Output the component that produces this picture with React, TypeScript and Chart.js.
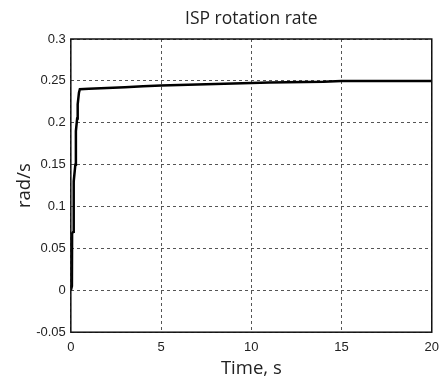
import React, { useEffect, useRef } from "react";
import { Chart, registerables } from "chart.js";

Chart.register(...registerables);

const timeSeconds = [0, 0.06, 0.07, 0.14, 0.16, 0.25, 0.28, 0.35, 0.38, 0.45, 0.5, 1, 2, 3, 4, 5, 6, 7, 8, 9, 10, 11, 12, 13, 14, 15, 20];
const rotationRate = [0, 0.005, 0.068, 0.07, 0.13, 0.15, 0.19, 0.205, 0.222, 0.236, 0.24, 0.2405, 0.2415, 0.2425, 0.2435, 0.2445, 0.2452, 0.2458, 0.2464, 0.247, 0.2475, 0.248, 0.2484, 0.2487, 0.249, 0.25, 0.25];
const yTickLabels = ["-0.05", "0", "0.05", "0.1", "0.15", "0.2", "0.25", "0.3"];
const xTickLabels = ["0", "5", "10", "15", "20"];

const boxPlugin = {
  id: "box",
  afterDraw(chart: any) {
    const { ctx, chartArea } = chart;
    ctx.save();
    ctx.strokeStyle = "#111";
    ctx.lineWidth = 1.5;
    ctx.setLineDash([]);
    ctx.strokeRect(chartArea.left, chartArea.top, chartArea.right - chartArea.left, chartArea.bottom - chartArea.top);
    ctx.restore();
  },
};

export default function App() {
  const ref = useRef<HTMLCanvasElement>(null);
  useEffect(() => {
    document.body.style.margin = "0";
    document.body.style.overflow = "hidden";
    if (!ref.current) return;
    const chart = new Chart(ref.current, {
      type: "line",
      data: {
        datasets: [
          {
            data: timeSeconds.map((t, i) => ({ x: t, y: rotationRate[i] })),
            borderColor: "#000",
            borderWidth: 2.5,
            pointRadius: 0,
            tension: 0,
            fill: false,
          },
        ],
      },
      options: {
        animation: false,
        responsive: false,
        layout: { padding: { top: 1, right: 8, bottom: 0, left: 0 } },
        plugins: {
          legend: { display: false },
          tooltip: { enabled: false },
          title: {
            display: true,
            fullSize: false,
            text: "ISP rotation rate",
            color: "#222",
            font: { family: "Open Sans", size: 17.5, weight: "normal" },
            padding: { top: 0, bottom: 9 },
          },
        },
        scales: {
          x: {
            type: "linear",
            min: 0,
            max: 20,
            ticks: {
              stepSize: 5,
              color: "#222",
              font: { family: "Liberation Sans", size: 13 },
              padding: 7,
              maxRotation: 0,
              callback: (_v: any, i: number) => xTickLabels[i],
            },
            grid: { color: "#555", lineWidth: 1, drawTicks: false, tickLength: 0 },
            border: { display: false, dash: [3, 3] },
            title: {
              display: true,
              text: "Time, s",
              color: "#222",
              font: { family: "Open Sans", size: 18.5 },
              padding: { top: -4, bottom: 0 },
            },
          },
          y: {
            type: "linear",
            min: -0.05,
            max: 0.3,
            ticks: {
              stepSize: 0.05,
              color: "#222",
              font: { family: "Liberation Sans", size: 13 },
              padding: 5,
              callback: (_v: any, i: number) => yTickLabels[i],
            },
            grid: { color: "#555", lineWidth: 1, drawTicks: false, tickLength: 0 },
            border: { display: false, dash: [3, 3] },
            title: {
              display: true,
              text: "rad/s",
              color: "#222",
              font: { family: "Open Sans", size: 18.5 },
              padding: { top: 6, bottom: -5 },
            },
          },
        },
      },
      plugins: [boxPlugin],
    } as any);
    return () => chart.destroy();
  }, []);
  return (
    <div style={{ width: 438, height: 372, padding: "8px 0 0 8px" }}>
      <canvas ref={ref} width={438} height={372} style={{ display: "block" }} />
    </div>
  );
}
